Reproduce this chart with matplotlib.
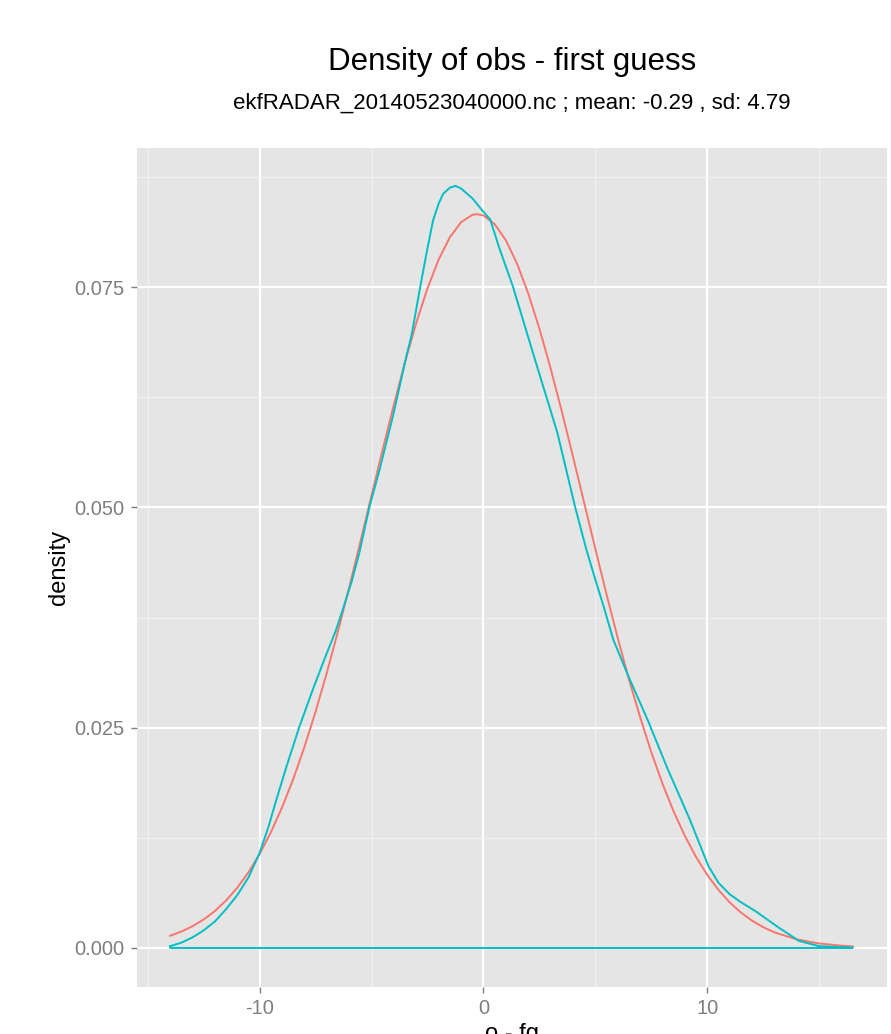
import matplotlib as mpl
mpl.use('Agg')
import matplotlib.pyplot as plt
import matplotlib.ticker as tick

# obs - first guess: kernel density
dens_x = [-14.0, -13.5, -13.0, -12.5, -12.0, -11.5, -11.0, -10.5, -10.0, -9.6,
          -9.28, -8.8, -8.24, -7.6, -7.04, -6.6, -6.3, -5.9, -5.55, -5.1,
          -4.65, -4.05, -3.45, -3.2, -2.85, -2.55, -2.25, -2.0, -1.8, -1.5,
          -1.25, -1.0, -0.5, 0.05, 0.3, 0.7, 1.3, 2.3, 3.3, 4.1,
          4.6, 5.0, 5.4, 5.8, 6.5, 7.35, 8.2, 9.25, 10.05, 10.5,
          11.0, 11.5, 12.2, 13.2, 14.1, 15.0, 16.5]
dens_y = [0.0002, 0.0006, 0.0012, 0.0020, 0.0030, 0.0044, 0.0060, 0.0080, 0.0108, 0.0138,
          0.0166, 0.0206, 0.0250, 0.0295, 0.0332, 0.0360, 0.0383, 0.0415, 0.0448, 0.0500,
          0.0542, 0.0603, 0.0671, 0.0697, 0.0747, 0.0788, 0.0826, 0.0845, 0.0856, 0.0863,
          0.0865, 0.0862, 0.0851, 0.0834, 0.0827, 0.0795, 0.0752, 0.0668, 0.0585, 0.0500,
          0.0452, 0.0418, 0.0385, 0.0350, 0.0307, 0.0258, 0.0205, 0.0144, 0.0093, 0.0074,
          0.0061, 0.0052, 0.0041, 0.0023, 0.0008, 0.0002, 0.00005]

# fitted normal curve (mean -0.29, sd 4.79)
norm_x = [-14, -13.5, -13, -12.5, -12, -11.5, -11, -10.5, -10, -9.5, -9, -8.5, -8,
          -7.5, -7, -6.5, -6, -5.5, -5, -4.5, -4, -3.5, -3, -2.5, -2, -1.5, -1,
          -0.5, -0.29, 0, 0.5, 1, 1.5, 2, 2.5, 3, 3.5, 4, 4.5, 5, 5.5, 6, 6.5, 7,
          7.5, 8, 8.5, 9, 9.5, 10, 10.5, 11, 11.5, 12, 12.5, 13, 14, 15, 16, 16.5]
norm_y = [0.00139, 0.00186, 0.00247, 0.00323, 0.00419, 0.00539, 0.00684, 0.00859,
          0.01067, 0.01312, 0.01595, 0.01917, 0.02281, 0.02683, 0.03122, 0.03594,
          0.04093, 0.04610, 0.05137, 0.05661, 0.06170, 0.06654, 0.07097, 0.07488,
          0.07815, 0.08067, 0.08238, 0.08321, 0.08329, 0.08314, 0.08216, 0.08033,
          0.07768, 0.07429, 0.07029, 0.06579, 0.06090, 0.05577, 0.05052, 0.04529,
          0.04012, 0.03518, 0.03050, 0.02619, 0.02220, 0.01864, 0.01547, 0.01271,
          0.01032, 0.00829, 0.00659, 0.00518, 0.00403, 0.00310, 0.00236, 0.00177,
          0.00097, 0.00051, 0.00026, 0.00018]

title = 'Density of obs - first guess'
subtitle = 'ekfRADAR_20140523040000.nc ; mean: -0.29 , sd: 4.79'
x_ticks = [-10, 0, 10]
x_minor = [-15, -5, 5, 15]
y_ticks = [0.0, 0.025, 0.05, 0.075]
y_minor = [0.0125, 0.0375, 0.0625, 0.0875]

plt.rcParams['font.family'] = ['Liberation Sans', 'DejaVu Sans']

W, H = 891, 1034
fig = plt.figure(figsize=(W/100, H/100), dpi=100)
ax = fig.add_axes([137/W, 1-987/H, (887-137)/W, (987-148)/H])
ax.set_facecolor('#E5E5E5')
for s in ax.spines.values():
    s.set_visible(False)

ax.set_xlim(-15.48, 18.03)
ax.set_ylim(-0.00443, 0.0908)

ax.set_xticks(x_ticks)
ax.set_xticks(x_minor, minor=True)
ax.set_yticks(y_ticks)
ax.set_yticks(y_minor, minor=True)
ax.yaxis.set_major_formatter(tick.FuncFormatter(lambda v, p: '%.3f' % v))
ax.xaxis.set_major_formatter(tick.FuncFormatter(lambda v, p: '%d' % v))

ax.grid(which='major', color='white', linewidth=1.6)
ax.grid(which='minor', color='#F2F2F2', linewidth=0.8)
ax.set_axisbelow(True)
ax.tick_params(which='major', direction='out', length=4, width=1, color='#7F7F7F',
               labelcolor='#7F7F7F', labelsize=14.5, pad=5)
ax.tick_params(which='minor', length=0)

# density outline closes along the baseline (ggplot geom_density)
ax.plot(norm_x, norm_y, color='#F8766D', linewidth=1.4, zorder=3)
ax.plot(dens_x + [dens_x[-1], dens_x[0], dens_x[0]],
        dens_y + [0.0, 0.0, dens_y[0]],
        color='#00BFC4', linewidth=1.4, zorder=4)

ax.set_ylabel('density', fontsize=17, labelpad=3)
ax.set_xlabel('o - fg', fontsize=17, labelpad=3)

cx = (137 + 887) / 2 / W
fig.text(cx, 1-62/H, title, ha='center', va='center', fontsize=22.5)
fig.text(cx, 1-103/H, subtitle, ha='center', va='center', fontsize=16)

fig.savefig('out.png', dpi=100)
